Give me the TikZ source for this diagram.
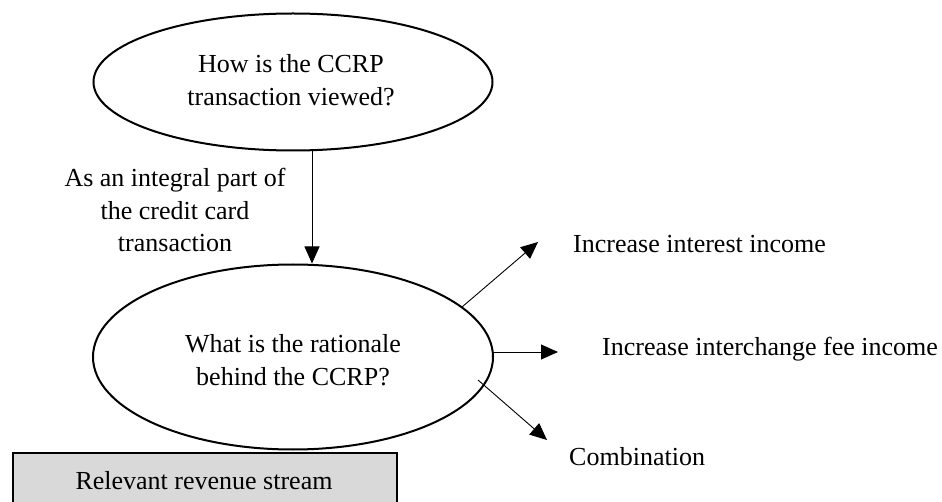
\documentclass[tikz,border=0pt]{standalone}
\usepackage{fontspec}
\setmainfont{Liberation Serif}
\usetikzlibrary{shapes.geometric,arrows.meta}
\tikzset{
  bubble/.style={draw, ellipse, line width=2pt, inner sep=0pt},
  txt/.style={font=\fontsize{26}{32.5}\selectfont, align=center, inner sep=0pt},
  outtxt/.style={font=\fontsize{26}{32.5}\selectfont, anchor=west, inner sep=0pt},
  flow/.style={line width=0.9pt, -{Triangle[length=17pt,width=15pt]}},
  stream/.style={draw, line width=1.6pt, fill=black!15}
}
\begin{document}
\begin{tikzpicture}[x=1pt,y=-1pt]
  \useasboundingbox (0,0) rectangle (942,502);

  % question bubbles
  \node[bubble, minimum width=399, minimum height=137] (q1) at (293,82) {};
  \node[txt] (q1t) at (291,80) {How is the CCRP\\transaction viewed?};

  \node[bubble, minimum width=400, minimum height=185] (q2) at (293,357) {};
  \node[txt] (q2t) at (293,360) {What is the rationale\\behind the CCRP?};

  % link between the questions
  \draw[flow] ([xshift=19pt]q1.south) -- ([xshift=19pt]q2.north);
  \node[txt] (link) at (175,210) {As an integral part of\\the credit card\\transaction};

  % possible rationales
  \coordinate (a1) at (462,307);
  \coordinate (a2) at (493,352);
  \coordinate (a3) at (478,380);
  \coordinate (b1) at (538,242);
  \coordinate (b2) at (558,352);
  \coordinate (b3) at (547,440);
  \draw[flow] (a1) -- (b1);
  \draw[flow] (a2) -- (b2);
  \draw[flow] (a3) -- (b3);
  \node[outtxt] (r1) at (573,244) {Increase interest income};
  \node[outtxt] (r2) at (602,349) {Increase interchange fee income};
  \node[outtxt] (r3) at (569,457) {Combination};

  % revenue stream box, running off the lower edge
  \path[stream] (13,453) rectangle (397,512);
  \node[txt] (rev) at (204,481) {Relevant revenue stream};
\end{tikzpicture}
\end{document}
